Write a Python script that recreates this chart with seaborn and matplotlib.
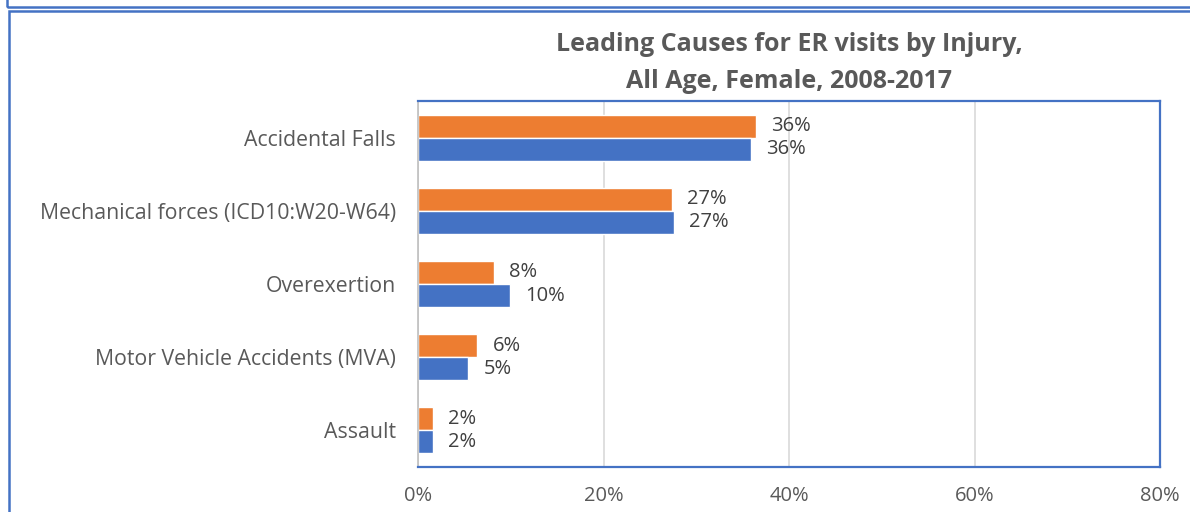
import seaborn as sns
import pandas as pd
import matplotlib.pyplot as plt
from matplotlib.patches import Rectangle
from matplotlib.ticker import FuncFormatter

## Donnees
causes = ["Accidental Falls", "Mechanical forces (ICD10:W20-W64)", "Overexertion",
          "Motor Vehicle Accidents (MVA)", "Assault"]
series_a = [36.4, 27.4, 8.2, 6.4, 1.6]   # orange
series_b = [35.9, 27.6, 9.9, 5.4, 1.6]   # bleu
labels_a = ["36%", "27%", "8%", "6%", "2%"]
labels_b = ["36%", "27%", "10%", "5%", "2%"]
groups = ["Series A", "Series B"]
xticks = [0, 20, 40, 60, 80]

df = pd.DataFrame({
    "cause": causes * 2,
    "value": series_a + series_b,
    "group": [groups[0]] * 5 + [groups[1]] * 5,
})

sns.set_style("white")
plt.rcParams["font.family"] = ["Open Sans", "DejaVu Sans"]

fig = plt.figure(figsize=(11.9, 5.12), dpi=100)
ax = fig.add_axes([418 / 1190, 45 / 512, 742 / 1190, 366 / 512])

sns.barplot(data=df, x="value", y="cause", hue="group", order=causes, hue_order=groups,
            palette=["#ED7D31", "#4472C4"], width=0.63, legend=False, ax=ax,
            saturation=1)

for cont, labs in zip(ax.containers, [labels_a, labels_b]):
    ax.bar_label(cont, labels=labs, padding=11, fontsize=14.5, color="#404040")

ax.set_xlim(0, 80)
ax.set_xticks(xticks)
ax.xaxis.set_major_formatter(FuncFormatter(lambda v, p: f"{v:.0f}%"))
ax.grid(axis="x", color="#D9D9D9", linewidth=1.2)
ax.set_axisbelow(True)
ax.set_xlabel("")
ax.set_ylabel("")
ax.tick_params(axis="x", labelsize=14.5, labelcolor="#595959", length=0, pad=14)
ax.tick_params(axis="y", labelsize=15.3, labelcolor="#595959", length=0, pad=16)

for s in ["top", "right", "bottom"]:
    ax.spines[s].set_color("#4472C4")
    ax.spines[s].set_linewidth(1.6)
ax.spines["left"].set_color("#BFBFBF")
ax.spines["left"].set_linewidth(1.2)

fig.text(789 / 1190, 1 - 63 / 512, "Leading Causes for ER visits by Injury,\nAll Age, Female, 2008-2017",
         ha="center", va="center", fontsize=18, fontweight="bold", color="#595959",
         linespacing=1.6)

## Cadres exterieurs
fig.patches.append(Rectangle((7 / 1190, 1 - 7 / 512), 1.2, 0.2, transform=fig.transFigure,
                             fill=False, edgecolor="#4472C4", linewidth=1.8))
fig.patches.append(Rectangle((9 / 1190, -0.2), 1.2, 1 - 11 / 512 + 0.2, transform=fig.transFigure,
                             fill=False, edgecolor="#4472C4", linewidth=1.8))

plt.savefig("out.png", dpi=100)
